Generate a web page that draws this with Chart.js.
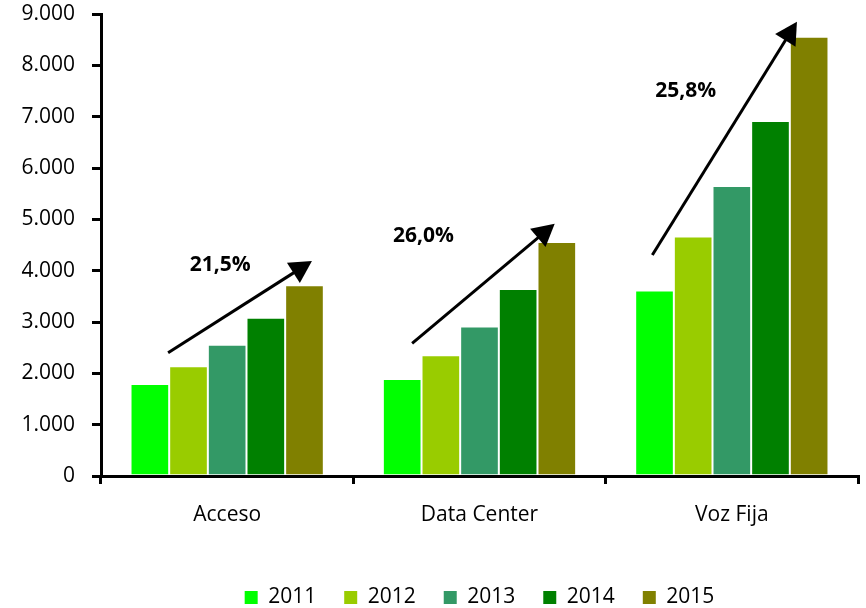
<!DOCTYPE html>
<html>
<head>
<meta charset="utf-8">
<script src="https://cdn.jsdelivr.net/npm/chart.js@4.4.0/dist/chart.umd.min.js"></script>
<style>
    html, body { margin: 0; padding: 0; background: #fff; }
    #wrap { width: 866px; height: 608px; }
</style>
</head>
<body>
<div id="wrap"><canvas id="growthChart"></canvas></div>
<script>
const categories = ['Acceso', 'Data Center', 'Voz Fija'];
const years = ['2011', '2012', '2013', '2014', '2015'];
const values2011 = [1790, 1890, 3615];
const values2012 = [2140, 2350, 4665];
const values2013 = [2555, 2910, 5650];
const values2014 = [3085, 3645, 6915];
const values2015 = [3715, 4560, 8555];
const yTickLabels = ['0', '1.000', '2.000', '3.000', '4.000', '5.000', '6.000', '7.000', '8.000', '9.000'];
const growthLabels = ['21,5%', '26,0%', '25,8%'];

const yearColors = ['#00ff00', '#99cc00', '#339966', '#008000', '#808000'];

// arrow ends: offset inside the category (in category widths) and value on the y axis
const arrows = [
    { from: [-0.234, 2400], to: [0.336, 4186], text: [-0.028, 4115] },
    { from: [-0.267, 2585], to: [0.298, 4914], text: [-0.222, 4666] },
    { from: [-0.315, 4305], to: [0.258, 8850], text: [-0.183, 7505] }
];

document.addEventListener('DOMContentLoaded', function() {
    Chart.defaults.font.family = "'Open Sans', sans-serif";
    Chart.defaults.font.size = 21;
    Chart.defaults.color = '#000';

    const growthArrows = {
        id: 'growthArrows',
        afterDatasetsDraw(chart) {
            const { ctx, scales: { x, y } } = chart;
            const step = x.getPixelForValue(1) - x.getPixelForValue(0);
            ctx.save();
            ctx.strokeStyle = '#000';
            ctx.fillStyle = '#000';
            ctx.lineWidth = 3;
            arrows.forEach(function(a, i) {
                const cx = x.getPixelForValue(i);
                const x0 = cx + a.from[0] * step, y0 = y.getPixelForValue(a.from[1]);
                const x1 = cx + a.to[0] * step, y1 = y.getPixelForValue(a.to[1]);
                const ang = Math.atan2(y1 - y0, x1 - x0);
                const head = 22, half = 12;
                const bx = x1 - head * Math.cos(ang), by = y1 - head * Math.sin(ang);
                ctx.beginPath();
                ctx.moveTo(x0, y0);
                ctx.lineTo(bx + 2 * Math.cos(ang), by + 2 * Math.sin(ang));
                ctx.stroke();
                ctx.beginPath();
                ctx.moveTo(x1, y1);
                ctx.lineTo(bx - half * Math.sin(ang), by + half * Math.cos(ang));
                ctx.lineTo(bx + half * Math.sin(ang), by - half * Math.cos(ang));
                ctx.closePath();
                ctx.fill();

                ctx.font = "bold 21px 'Open Sans', sans-serif";
                ctx.textAlign = 'center';
                ctx.textBaseline = 'middle';
                ctx.fillText(growthLabels[i], cx + a.text[0] * step, y.getPixelForValue(a.text[1]));
            });
            ctx.restore();
        }
    };

    const allValues = [values2011, values2012, values2013, values2014, values2015];
    const ctx = document.getElementById('growthChart').getContext('2d');

    const growthChart = new Chart(ctx, {
        type: 'bar',
        data: {
            labels: categories,
            datasets: years.map(function(year, i) {
                return {
                    label: year,
                    data: allValues[i],
                    backgroundColor: yearColors[i],
                    borderColor: 'rgba(255, 255, 255, 0.45)',
                    borderWidth: 1,
                    categoryPercentage: 0.766,
                    barPercentage: 1.0
                };
            })
        },
        options: {
            responsive: true,
            maintainAspectRatio: false,
            animation: false,
            layout: {
                padding: { top: 0, right: 8, left: 0, bottom: -10 }
            },
            plugins: {
                tooltip: { enabled: false },
                legend: {
                    position: 'bottom',
                    fullSize: false,
                    labels: {
                        boxWidth: 13,
                        boxHeight: 13,
                        padding: 28,
                        font: { size: 21 },
                        generateLabels: function(chart) {
                            return Chart.defaults.plugins.legend.labels.generateLabels(chart).map(function(item) {
                                item.lineWidth = 0;
                                return item;
                            });
                        }
                    }
                }
            },
            scales: {
                x: {
                    grid: {
                        drawOnChartArea: false,
                        color: '#000',
                        lineWidth: 3,
                        tickLength: 8
                    },
                    border: { color: '#000', width: 3 },
                    ticks: { padding: 18 },
                    afterFit: function(scale) { scale.height = 83; }
                },
                y: {
                    min: 0,
                    max: 9000,
                    grid: {
                        drawOnChartArea: false,
                        color: '#000',
                        lineWidth: 3,
                        tickLength: 9
                    },
                    border: { color: '#000', width: 3 },
                    ticks: {
                        stepSize: 1000,
                        padding: 17,
                        callback: function(value, index) {
                            return yTickLabels[index];
                        }
                    },
                    afterFit: function(scale) {
                        scale.width = 101;
                        scale.paddingTop = 14;
                        scale.paddingBottom = 0;
                    }
                }
            }
        },
        plugins: [growthArrows]
    });
});
</script>
</body>
</html>
